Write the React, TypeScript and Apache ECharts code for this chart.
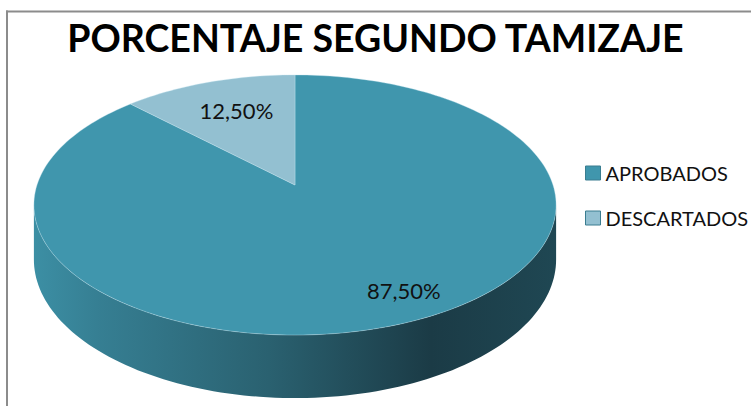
import React, { useEffect, useRef } from 'react';
import * as echarts from 'echarts';

const categories = ['APROBADOS', 'DESCARTADOS'];
const values = [87.5, 12.5];
const labelTexts = ['87,50%', '12,50%'];
const colors = ['#4096ad', '#93c0d1'];
const titleText = 'PORCENTAJE SEGUNDO TAMIZAJE';

const FONT = "Lato, 'Open Sans', sans-serif";

// projection of the tilted disk (perspective)
const CX = 295;
const CY = 185;
const RA = 258;
const RB = 127;
const PERSP = 0.1538;
const DEPTH = 53.3;
const LABEL_R = [0.83, 0.66];
const LABEL_SHIFT = [[16, -5], [1, -4]];

function project(alphaDeg: number, r: number, dy: number): number[] {
  const a = (alphaDeg * Math.PI) / 180;
  const X = Math.sin(a) * r;
  const Z = -Math.cos(a) * r;
  const f = 1 / (1 - PERSP * Z);
  return [CX + RA * X * f, CY + RB * Z * f + dy * f];
}

function arc(s: number, e: number, dy: number): number[][] {
  const n = Math.max(2, Math.ceil((e - s) / 1.5));
  const pts: number[][] = [];
  for (let k = 0; k <= n; k++) pts.push(project(s + ((e - s) * k) / n, 1, dy));
  return pts;
}

function makeRender(i: number) {
  return (_params: any, api: any) => {
    const total = values.reduce((a, b) => a + b, 0);
    let start = 0;
    for (let j = 0; j < i; j++) start += values[j];
    const v = api.value(0);
    const s = (start / total) * 360;
    const e = ((start + v) / total) * 360;
    const children: any[] = [];
    const silL = (Math.acos(-PERSP) * 180) / Math.PI;
    const silR = 360 - silL;
    const vs = Math.max(s, silL);
    const ve = Math.min(e, silR);
    if (ve > vs) {
      const top = arc(vs, ve, 0);
      const bottom = arc(vs, ve, DEPTH).reverse();
      children.push({
        type: 'polygon',
        shape: { points: top.concat(bottom) },
        style: {
          fill: new echarts.graphic.LinearGradient(0, 0, 1, 0, [
            { offset: 0, color: '#3c8fa4' },
            { offset: 0.12, color: '#367f93' },
            { offset: 0.45, color: '#2a6170' },
            { offset: 0.76, color: '#1b3b46' },
            { offset: 1, color: '#1f4753' },
          ]),
          stroke: null,
        },
      });
    }
    const pts = [[CX, CY]].concat(arc(s, e, 0));
    children.push({
      type: 'polygon',
      shape: { points: pts },
      style: { fill: api.visual('color'), stroke: 'rgba(200,230,240,0.45)', lineWidth: 0.8 },
    });
    const mid = (s + e) / 2;
    const lp = project(mid, LABEL_R[i], 0);
    children.push({
      type: 'text',
      x: lp[0] + LABEL_SHIFT[i][0],
      y: lp[1] + LABEL_SHIFT[i][1],
      style: {
        text: labelTexts[i],
        fill: '#111111',
        fontSize: 22,
        fontFamily: FONT,
        align: 'center',
        verticalAlign: 'middle',
        textAlign: 'center',
        textVerticalAlign: 'middle',
      },
    });
    return { type: 'group', children };
  };
}

export default function App() {
  const ref = useRef<HTMLDivElement>(null);
  useEffect(() => {
    if (!ref.current) return;
    const chart = echarts.init(ref.current, null, { renderer: 'svg' });
    chart.setOption({
      animation: false,
      backgroundColor: '#ffffff',
      title: {
        text: titleText,
        left: 'center',
        top: 13,
        textStyle: { fontSize: 37.5, fontWeight: 'bold', fontFamily: FONT, color: '#000000' },
      },
      legend: {
        orient: 'vertical',
        left: 585,
        top: 163,
        padding: 0,
        itemWidth: 15,
        itemHeight: 14,
        itemGap: 25,
        icon: 'rect',
        data: categories,
        itemStyle: { borderColor: '#3a7d90', borderWidth: 1 },
        textStyle: { fontSize: 20, fontFamily: FONT, color: '#111111' },
      },
      graphic: [
        { type: 'line', shape: { x1: 6, y1: 11.5, x2: 751, y2: 11.5 }, style: { stroke: '#8c8c8c', lineWidth: 2 } },
        { type: 'line', shape: { x1: 7, y1: 10.5, x2: 7, y2: 406 }, style: { stroke: '#8c8c8c', lineWidth: 2 } },
      ],
      series: categories.map((name, i) => ({
        type: 'custom',
        name,
        coordinateSystem: 'none',
        data: [[values[i]]],
        itemStyle: { color: colors[i] },
        renderItem: makeRender(i),
      })),
    });
    return () => chart.dispose();
  }, []);
  return (
    <div
      ref={ref}
      style={{ position: 'fixed', left: 0, top: 0, width: 751, height: 406 }}
    />
  );
}
